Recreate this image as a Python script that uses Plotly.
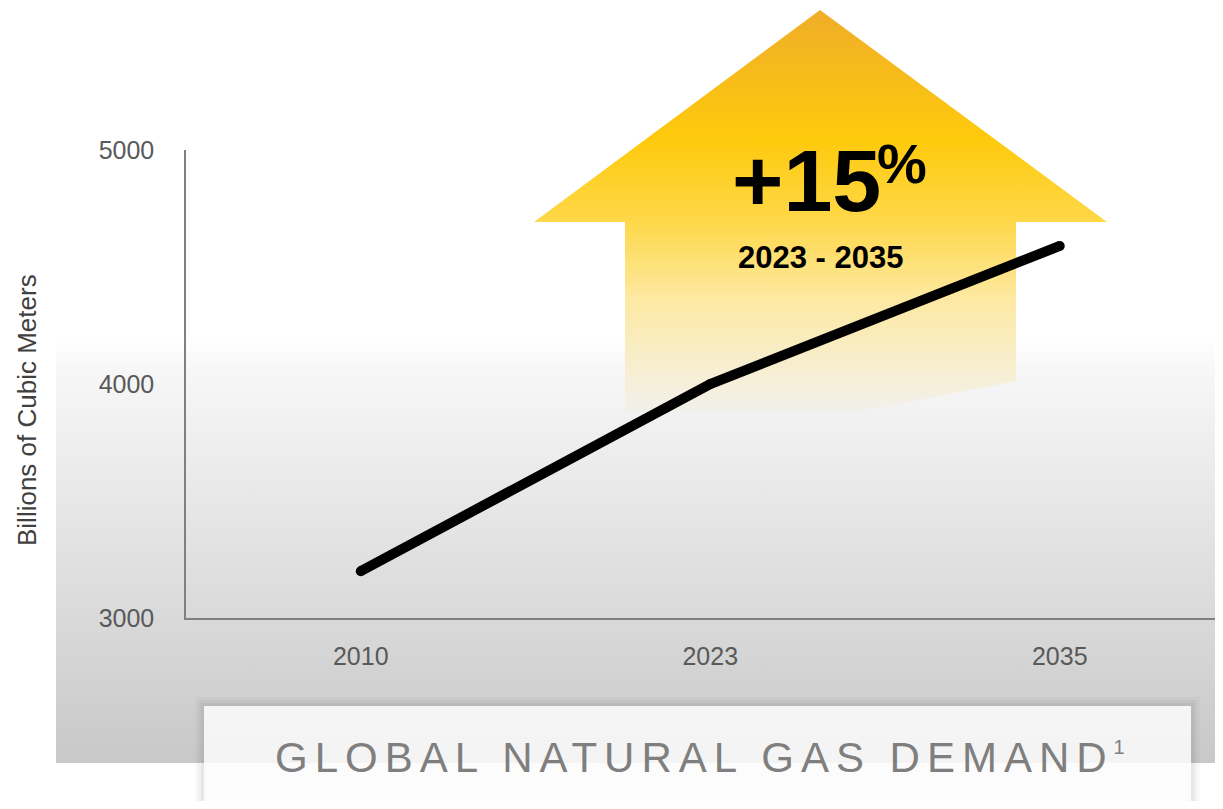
import plotly.graph_objects as go

# data
years = ["2010", "2023", "2035"]
demand_bcm = [3200, 4000, 4590]
y_ticks = [3000, 4000, 5000]
growth_label = "+15"
growth_period = "2023 - 2035"
chart_title = "GLOBAL NATURAL GAS DEMAND"
y_title = "Billions of Cubic Meters"

# page is 1223x809 with an 8px body margin, so keep the figure inside it
OFF = 8
W, H = 1223 - 2 * OFF, 809 - 2 * OFF
# plot area in page pixels
PX0, PX1, PY0, PY1 = 186, 1223 - OFF, 150, 618

FONT = "Liberation Sans, Arial"

# decoration outlines, in page pixels
bg_x = [56, 1223, 1223, 56, 56]
bg_y = [335, 335, 763, 763, 335]
arrow_x = [820, 1107, 1016, 1016, 860, 625, 625, 534, 820]
arrow_y = [10, 222, 222, 381, 412, 412, 222, 222, 10]

fig = go.Figure()

# gray fade behind the chart
fig.add_trace(go.Scatter(
    x=bg_x, y=bg_y, mode="lines", line=dict(width=0), fill="toself",
    fillgradient=dict(type="vertical", colorscale=[[0, "#ffffff"], [0.08, "#f7f7f7"], [1, "#c8c8c8"]],
                      start=335, stop=763),
    hoverinfo="skip", showlegend=False))

# yellow arrow
fig.add_trace(go.Scatter(
    x=arrow_x, y=arrow_y, mode="lines", line=dict(width=0), fill="toself",
    fillgradient=dict(type="vertical",
                      colorscale=[[0, "#EFAD29"], [0.32, "#FECA0C"], [0.53, "#FED84A"],
                                  [0.72, "#FDE9A3"], [0.92, "#F6EFD8"], [1, "#F2F0EC"]],
                      start=10, stop=412),
    hoverinfo="skip", showlegend=False))

# demand line
fig.add_trace(go.Scatter(
    x=years, y=demand_bcm, xaxis="x2", yaxis="y2",
    mode="lines+markers",
    line=dict(color="black", width=10),
    marker=dict(size=10, color="black"),
    showlegend=False))

shapes = []
for pad, a in [(9, 0.025), (6, 0.03), (3, 0.04)]:
    shapes.append(dict(type="rect", xref="x", yref="y", layer="above",
                       x0=204 - pad, x1=1191 + pad, y0=706 - pad, y1=803 + pad,
                       fillcolor="rgba(0,0,0,%s)" % a, line_width=0))
shapes.append(dict(type="rect", xref="x", yref="y", layer="above",
                   x0=204, x1=1191, y0=706, y1=803,
                   fillcolor="rgba(255,255,255,0.85)", line_width=0))

annotations = [
    dict(x=806, y=180, xref="x", yref="y", text=growth_label, showarrow=False,
         font=dict(family=FONT, size=88, color="black", weight="bold")),
    dict(x=902, y=163, xref="x", yref="y", text="%", showarrow=False,
         font=dict(family=FONT, size=56, color="black", weight="bold")),
    dict(x=820, y=257, xref="x", yref="y", text=growth_period, showarrow=False,
         font=dict(family=FONT, size=31, color="black", weight="bold")),
    dict(x=27, y=410, xref="x", yref="y", text=y_title, showarrow=False, textangle=-90,
         font=dict(family=FONT, size=26, color="#404040")),
    dict(x=703, y=757, xref="x", yref="y", showarrow=False,
         text="<span style='letter-spacing:7px'>" + chart_title
              + "<sup><span style='font-size:20px'>1</span></sup></span>",
         font=dict(family=FONT, size=42, color="#7f7f7f")),
]

fig.update_layout(
    width=W, height=H, autosize=False,
    margin=dict(l=0, r=0, t=0, b=0, pad=0, autoexpand=False),
    paper_bgcolor="white",
    plot_bgcolor="rgba(0,0,0,0)",
    xaxis=dict(domain=[0, 1], range=[OFF, OFF + W], visible=False),
    yaxis=dict(domain=[0, 1], range=[OFF + H, OFF], visible=False),
    xaxis2=dict(domain=[(PX0 - OFF) / W, (PX1 - OFF) / W], anchor="y2", type="category",
                range=[-0.5, -0.5 + (PX1 - PX0) / 349.5], showline=True,
                linecolor="#808080", linewidth=1.5,
                showgrid=False, zeroline=False, ticks="", ticklabelstandoff=15,
                tickfont=dict(family=FONT, size=25, color="#595959")),
    yaxis2=dict(domain=[1 - (PY1 - OFF) / H, 1 - (PY0 - OFF) / H], anchor="x2",
                range=[3000, 5000], tickvals=y_ticks, showline=True,
                linecolor="#808080", linewidth=1.5, showgrid=False, zeroline=False,
                ticks="", ticklabelstandoff=25,
                tickfont=dict(family=FONT, size=25, color="#595959")),
    shapes=shapes,
    annotations=annotations,
)

fig.write_html("out.html")
